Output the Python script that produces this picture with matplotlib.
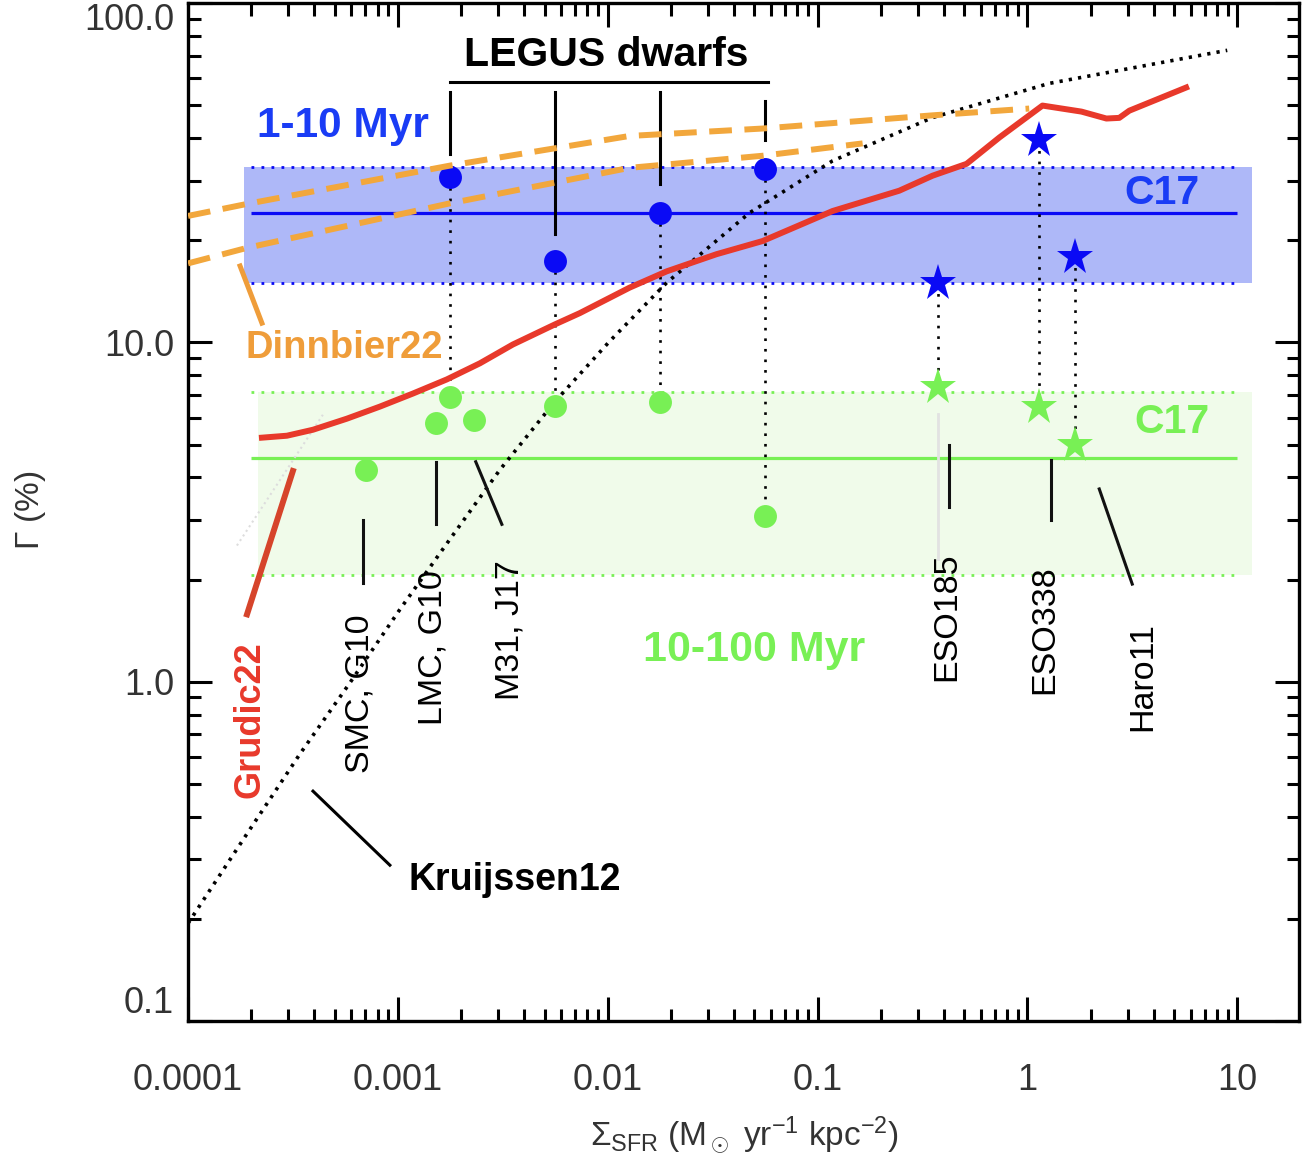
import numpy as np
import matplotlib.pyplot as plt
from matplotlib.ticker import NullFormatter, LogLocator

plt.rcParams['font.family'] = ['Liberation Sans', 'DejaVu Sans']
plt.rcParams['mathtext.fontset'] = 'custom'
plt.rcParams['mathtext.rm'] = 'Liberation Sans'
plt.rcParams['mathtext.it'] = 'Liberation Sans:italic'
plt.rcParams['mathtext.bf'] = 'Liberation Sans:bold'

# LEGUS dwarfs: young (1-10 Myr) and old (10-100 Myr) Gamma
legus_sfr = [1.77e-3, 5.6e-3, 0.0177, 0.056]
legus_young = [30.8, 17.4, 24.1, 32.5]
legus_old = [6.92, 6.48, 6.69, 3.08]

# literature: SMC, LMC, M31
lit_sfr = [7.05e-4, 1.52e-3, 2.3e-3]
lit_gamma = [4.21, 5.8, 5.92]

# starbursts: ESO185, ESO338, Haro11
bcd_sfr = [0.373, 1.14, 1.68]
bcd_young = [15.0, 39.4, 17.9]
bcd_old = [7.41, 6.47, 4.99]

# C17 bands (low, mid, high)
c17_young = [15.0, 24.1, 33.0]
c17_old = [2.07, 4.57, 7.16]

# Kruijssen12 model
k12_sfr = [1e-4, 1.97e-4, 3.41e-4, 5.91e-4, 1.02e-3, 1.77e-3, 3.06e-3, 5.6e-3,
           0.0102, 0.0191, 0.0474, 0.118, 0.353, 1.27, 8.96]
k12_gamma = [0.194, 0.367, 0.612, 0.993, 1.63, 2.63, 4.21, 6.69,
             10.07, 15.0, 24.1, 34.3, 46.0, 58.0, 72.6]

# Grudic22 model
g22_sfr = [2.25e-4, 2.96e-4, 3.94e-4, 5.71e-4, 8.21e-4, 1.18e-3, 1.71e-3, 2.46e-3,
           3.53e-3, 5.6e-3, 7.36e-3, 0.0127, 0.0191, 0.033, 0.0547, 0.118, 0.245,
           0.353, 0.513, 0.736, 1.18, 1.81, 2.38, 2.74, 3.06, 5.71]
g22_gamma = [5.24, 5.31, 5.53, 5.96, 6.47, 7.07, 7.78, 8.68,
             9.86, 11.3, 12.2, 14.5, 16.2, 18.2, 19.9, 24.4, 28.0,
             31.0, 33.6, 40.2, 49.9, 47.9, 45.7, 45.9, 48.2, 56.4]

# Dinnbier22 models
d22a_sfr = [1e-4, 1.91e-4, 1.77e-3, 0.0127, 0.0547, 0.353, 1.02]
d22a_gamma = [23.6, 25.6, 33.2, 40.6, 42.7, 46.7, 48.9]
d22b_sfr = [1e-4, 1.91e-4, 1.77e-3, 0.0127, 0.0547, 0.164]
d22b_gamma = [17.1, 19.0, 25.7, 32.7, 35.5, 38.6]

blue = '#0a0af5'
blue_txt = '#1a3cf5'
green = '#78f055'
orange = '#f2a73c'
red = '#e8392b'

fig = plt.figure(figsize=(13.14, 11.62), dpi=100)
ax = fig.add_axes([0.1431, 0.1213, 0.8455, 0.876])
ax.set_xscale('log')
ax.set_yscale('log')
ax.set_xlim(1e-4, 19.7)
ax.set_ylim(0.1, 100)

# C17 bands
ax.fill_between([1.85e-4, 11.7], c17_young[0], c17_young[2], color='#aeb8f8', lw=0, zorder=0)
ax.fill_between([2.15e-4, 11.7], c17_old[0], c17_old[2], color='#f0fbea', lw=0, zorder=0)
ax.hlines([c17_young[0], c17_young[2]], 2e-4, 10, colors=blue, lw=2, linestyles=(0, (1, 2.6)), zorder=1)
ax.hlines([c17_old[0], c17_old[2]], 2e-4, 10, colors=green, lw=2, linestyles=(0, (1, 2.6)), zorder=1)
ax.hlines(c17_young[1], 2e-4, 10, colors=blue, lw=2.3, zorder=1)
ax.hlines(c17_old[1], 2e-4, 10, colors=green, lw=2.3, zorder=1)

# faint artefacts
ax.plot([1.71e-4, 4.39e-4], [2.52, 6.12], color='#dddddd', lw=1.5, ls=':', zorder=1)
ax.plot([0.373, 0.373], [2.30, 6.17], color='#e2e2e2', lw=2, zorder=1)

# models
ax.plot(k12_sfr, k12_gamma, color='k', lw=2.6, ls=(0, (0.9, 1.7)), zorder=2)
ax.plot(g22_sfr, g22_gamma, color=red, lw=4.3, zorder=3, solid_joinstyle='round')
ax.plot(d22a_sfr, d22a_gamma, color=orange, lw=4.3, ls=(0, (3.8, 2.1)), zorder=4)
ax.plot(d22b_sfr, d22b_gamma, color=orange, lw=4.3, ls=(0, (3.8, 2.1)), zorder=4)

# connectors
for x, y1, y2 in zip(legus_sfr + bcd_sfr, legus_young + bcd_young, legus_old + bcd_old):
    ax.plot([x, x], [y1, y2], color='k', lw=1.9, ls=(0, (1, 3.0)), zorder=2)

# points
ax.plot(legus_sfr, legus_young, 'o', color=blue, ms=16.5, mew=0, zorder=3.5)
ax.plot(legus_sfr, legus_old, 'o', color=green, ms=16.5, mew=0, zorder=3.5)
ax.plot(lit_sfr, lit_gamma, 'o', color=green, ms=16.5, mew=0, zorder=3.5)
ax.plot(bcd_sfr, bcd_young, '*', color=blue, ms=28, mew=0, zorder=5)
ax.plot(bcd_sfr, bcd_old, '*', color=green, ms=28, mew=0, zorder=5)

# LEGUS label
ax.text(0.0098, 70.2, 'LEGUS dwarfs', ha='center', va='center', fontsize=29.5, fontweight='bold')
ax.plot([legus_sfr[0], 0.0578], [58.4, 58.4], color='k', lw=2.2)
for x, (y0, y1) in zip(legus_sfr, [(54.6, 36.0), (54.6, 20.9), (54.6, 29.3), (51.6, 39.4)]):
    ax.plot([x, x], [y0, y1], color='k', lw=2.2)

# band labels
ax.text(2.13e-4, 43.5, '1-10 Myr', color=blue_txt, fontsize=30.5, fontweight='bold', va='center', ha='left')
ax.text(6.59, 27.6, 'C17', color=blue_txt, fontsize=29.5, fontweight='bold', va='center', ha='right')
ax.text(7.36, 5.84, 'C17', color=green, fontsize=29.5, fontweight='bold', va='center', ha='right')
ax.text(0.05, 1.24, '10-100 Myr', color=green, fontsize=31, fontweight='bold', va='center', ha='center')

# model labels
ax.text(1.87e-4, 9.6, 'Dinnbier22', color='#ef9d3a', fontsize=27.5, fontweight='bold', va='center', ha='left')
ax.plot([1.77e-4, 2.25e-4], [16.8, 11.4], color='#ef9d3a', lw=3.6)
ax.text(1.97e-4, 0.773, 'Grudic22', color=red, fontsize=26, fontweight='bold', rotation=90,
        va='center', ha='center')
ax.plot([3.16e-4, 1.91e-4], [4.18, 1.58], color='#d6442b', lw=4.3)
ax.text(1.12e-3, 0.261, 'Kruijssen12', color='k', fontsize=27, fontweight='bold', va='center', ha='left')
ax.plot([3.94e-4, 9.16e-4], [0.476, 0.288], color='k', lw=2.2)

# galaxy labels
names = ['SMC, G10', 'LMC, G10', 'M31, J17', 'ESO185', 'ESO338', 'Haro11']
name_pos = [(6.59e-4, 1.58), (1.47e-3, 2.14), (3.41e-3, 2.28), (0.411, 2.40), (1.21, 2.20), (3.53, 1.50)]
pointers = [((6.81e-4, 6.81e-4), (2.99, 1.96)),
            ((1.52e-3, 1.52e-3), (4.45, 2.91)),
            ((2.35e-3, 3.13e-3), (4.45, 2.91)),
            ((0.421, 0.421), (4.99, 3.27)),
            ((1.29, 1.29), (4.51, 2.99)),
            ((2.20, 3.16), (3.70, 1.94))]
for name, (x, y), (px, py) in zip(names, name_pos, pointers):
    ax.text(x, y, name, rotation=90, ha='center', va='top', fontsize=24.5, color='k')
    ax.plot(px, py, color='#111111', lw=2.2)

# axes styling
ax.set_xticks([1e-4, 1e-3, 1e-2, 0.1, 1, 10])
ax.set_xticklabels(['0.0001', '0.001', '0.01', '0.1', '1', '10'])
ax.set_yticks([0.1, 1, 10, 100])
ax.set_yticklabels(['0.1', '1.0', '10.0', '100.0'])
ax.xaxis.set_minor_locator(LogLocator(base=10, subs=np.arange(2, 10), numticks=20))
ax.yaxis.set_minor_locator(LogLocator(base=10, subs=np.arange(2, 10), numticks=20))
ax.xaxis.set_minor_formatter(NullFormatter())
ax.yaxis.set_minor_formatter(NullFormatter())
ax.tick_params(which='both', direction='in', top=True, right=True, width=2.2, colors='k',
               labelcolor='#333333', labelsize=26)
ax.tick_params(which='major', length=17)
ax.tick_params(which='minor', length=9)
ax.tick_params(axis='x', pad=30)
ax.tick_params(axis='y', pad=10)
ylabels = ax.get_yticklabels()
ylabels[0].set_va('bottom')
ylabels[-1].set_va('top')
for s in ax.spines.values():
    s.set_linewidth(2.4)

ax.text(0.501, -0.112, r'$\Sigma_{\rm SFR}$ (M$_\odot$ yr$^{-1}$ kpc$^{-2}$)', transform=ax.transAxes,
        ha='center', va='center', fontsize=24, color='#333333')
ax.text(-0.142, 0.502, r'$\Gamma$ (%)', transform=ax.transAxes, rotation=90,
        ha='center', va='center', fontsize=24, color='#333333')

fig.savefig('out.png', dpi=100)
